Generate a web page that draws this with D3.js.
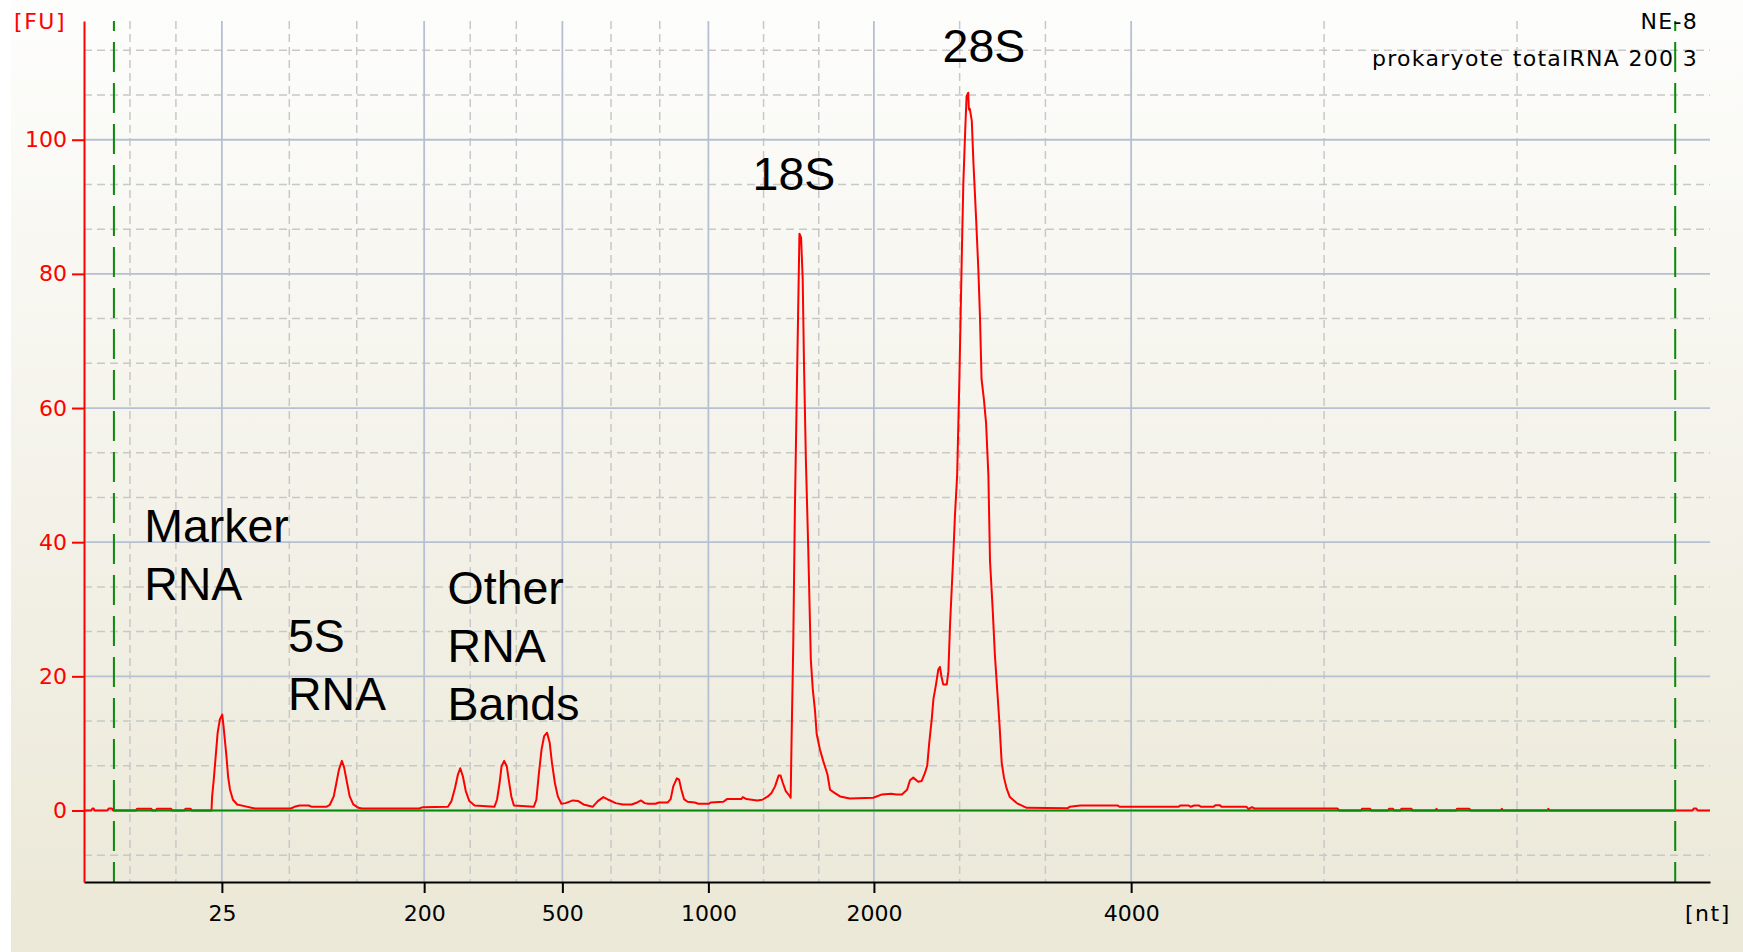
<!DOCTYPE html>
<html>
<head>
<meta charset="utf-8">
<script src="https://cdn.jsdelivr.net/npm/d3@7"></script>
<style>
    body { margin: 0; background: #fff; }
    svg { display: block; }
    .lbl { font-family: "DejaVu Sans", Verdana, sans-serif; font-size: 22px; }
    .note { font-family: "Liberation Sans", Arial, sans-serif; font-size: 46.5px; fill: #000; }
</style>
</head>
<body>
<svg id="chart"></svg>
<script>
// ladder: migration time (s) and the size in nt it stands for
const ladderNt = [25, 200, 500, 1000, 2000, 4000];
const ladderTime = [23.24, 29.46, 33.71, 38.2, 43.29, 51.2];
const fuTicks = [0, 20, 40, 60, 80, 100];
// lower and upper alignment markers (s)
const markerTime = [19.92, 67.93];

// electropherogram trace
const traceTime = [
    19.0, 19.22, 19.26, 19.3, 19.32, 19.72, 19.76, 19.86, 19.9,
    20.6, 20.63, 21.07, 21.1, 21.21, 21.24, 21.68, 21.71, 22.09, 22.12, 22.28, 22.31,
    22.92, 22.94, 22.99, 23.05, 23.11, 23.18, 23.25, 23.29, 23.32, 23.38, 23.43, 23.49, 23.58, 23.71, 23.93, 24.15, 24.26,
    25.36, 25.47, 25.63, 25.91, 26.01, 26.45, 26.56, 26.68, 26.76, 26.84, 26.93, 27.0, 27.09, 27.17, 27.28, 27.44, 27.55,
    29.31, 29.42, 30.19, 30.3, 30.41, 30.5, 30.57, 30.65, 30.74, 30.85, 31.01,
    31.62, 31.7, 31.78, 31.84, 31.92, 32.0, 32.06, 32.14, 32.22,
    32.83, 32.91, 32.99, 33.07, 33.15, 33.24, 33.32, 33.39, 33.48, 33.57, 33.68, 33.81, 34.03, 34.2, 34.36, 34.64, 34.8, 34.97, 35.13, 35.35, 35.57, 35.84,
    36.01, 36.13, 36.24, 36.35, 36.57, 36.68, 36.95, 37.04, 37.12, 37.23, 37.3, 37.37, 37.45, 37.56, 37.78, 37.89,
    38.22, 38.27, 38.66, 38.77, 39.21, 39.26, 39.37, 39.7, 39.86, 40.03, 40.14, 40.25, 40.36, 40.42, 40.49, 40.58, 40.69, 40.73,
    40.76, 40.81, 40.86, 40.93, 41.0, 41.05, 41.1, 41.14, 41.2, 41.27, 41.35, 41.41, 41.48, 41.53, 41.63, 41.73, 41.86, 41.94, 42.09, 42.25, 42.55,
    43.27, 43.54, 43.82, 43.98, 44.15, 44.31, 44.4, 44.5, 44.65, 44.76, 44.86, 44.93, 44.99, 45.07, 45.12, 45.2, 45.27, 45.32, 45.37, 45.42, 45.53, 45.58,
    45.63, 45.68, 45.73, 45.78, 45.85, 45.92, 45.96, 46.0, 46.04, 46.1, 46.14, 46.19, 46.21, 46.24, 46.3, 46.35, 46.43, 46.5, 46.55, 46.6, 46.67, 46.74, 46.81, 46.86, 46.94, 47.01, 47.08, 47.15, 47.22, 47.29, 47.37, 47.47, 47.68, 47.99,
    49.25, 49.31, 49.64, 50.79, 50.84, 52.65, 52.72, 52.97, 53.03, 53.14, 53.29, 53.35, 53.73, 53.8, 53.92, 53.98, 54.75, 54.81, 54.91, 55.0, 57.54, 57.6,
    58.27, 58.3, 58.55, 58.58, 59.1, 59.13, 59.25, 59.28, 59.48, 59.51, 59.82, 59.85, 60.56, 60.59, 60.62, 61.19, 61.22, 61.6, 61.63, 62.57, 62.6, 62.63, 64.0, 64.03, 64.06,
    68.46, 68.5, 68.58, 68.62, 69.0
];
const traceFu = [
    0, 0, 0.3, 0.3, 0, 0, 0.3, 0.3, 0,
    0, 0.25, 0.25, 0, 0, 0.25, 0.25, 0, 0, 0.25, 0.25, 0,
    0, 2.1, 4.6, 8.1, 11.6, 13.6, 14.3, 12.6, 11.1, 8.1, 5.1, 3.1, 1.6, 0.9, 0.65, 0.4, 0.3,
    0.3, 0.55, 0.75, 0.75, 0.55, 0.55, 0.85, 2.1, 4.1, 6.1, 7.4, 6.4, 4.1, 2.1, 0.9, 0.4, 0.3,
    0.3, 0.5, 0.55, 1.4, 3.4, 5.4, 6.3, 5.1, 2.9, 1.4, 0.75,
    0.55, 1.6, 4.1, 6.6, 7.4, 6.6, 4.6, 2.1, 0.75,
    0.55, 1.6, 5.6, 9.1, 11.1, 11.6, 10.1, 7.1, 4.1, 2.1, 1.0, 1.1, 1.5, 1.4, 0.9, 0.55, 1.4, 2.0, 1.6, 1.1, 0.9, 0.9,
    1.2, 1.5, 1.1, 1.0, 1.0, 1.2, 1.2, 1.7, 3.6, 4.8, 4.6, 3.1, 1.7, 1.3, 1.2, 1.0,
    1.0, 1.2, 1.3, 1.7, 1.7, 2.0, 1.7, 1.5, 1.6, 2.1, 2.6, 3.6, 5.2, 5.2, 4.1, 2.9, 2.2, 1.9,
    11.1, 24.8, 44.9, 65.6, 86.0, 85.4, 79.3, 66.6, 51.9, 39.2, 22.5, 18.1, 14.8, 11.4, 9.1, 7.4, 5.4, 3.1, 2.6, 2.1, 1.8,
    1.9, 2.4, 2.5, 2.4, 2.4, 3.1, 4.5, 4.9, 4.3, 4.4, 5.6, 6.7, 10.0, 13.7, 16.6, 18.8, 21.0, 21.4, 19.9, 18.8, 18.8, 20.7,
    27.6, 32.8, 37.9, 43.8, 50.0, 64.7, 74.6, 84.5, 93.6, 101.7, 106.5, 107.0, 104.5, 104.6, 102.8, 96.6, 88.5, 80.8, 73.8, 64.3, 61.4, 57.7, 50.0, 37.2, 30.2, 23.2, 18.1, 13.0, 7.1, 4.9, 3.3, 2.0, 1.1, 0.4,
    0.35, 0.55, 0.75, 0.75, 0.55, 0.55, 0.75, 0.75, 0.55, 0.75, 0.75, 0.55, 0.55, 0.8, 0.8, 0.55, 0.55, 0.2, 0.5, 0.3, 0.3, 0,
    0, 0.25, 0.25, 0, 0, 0.25, 0.25, 0, 0, 0.25, 0.25, 0, 0, 0.25, 0, 0, 0.25, 0.25, 0, 0, 0.25, 0, 0, 0.25, 0,
    0, 0.3, 0.3, 0, 0
];

// peak annotations, anchored at (time, FU) of their first baseline
const noteText = [["Marker", "RNA"], ["5S", "RNA"], ["Other", "RNA", "Bands"], ["18S"], ["28S"]];
const noteTime = [20.85, 25.27, 30.18, 39.56, 45.4];
const noteFu = [40.1, 23.7, 30.8, 92.5, 111.6];

const sampleName = "NE-8";
const runName = "prokaryote totalRNA 200 3";

const W = 1743, H = 952;
const plot = { left: 84, right: 1710, top: 21, bottom: 882 };

const svg = d3.select("#chart").attr("width", W).attr("height", H);

const x = d3.scaleLinear().domain([19, 69]).range([plot.left, plot.right]);
const y = d3.scaleLinear().domain([-10.66, 117.7]).range([plot.bottom, plot.top]);

// panel background: white fading into xp beige
const grad = svg.append("defs").append("linearGradient").attr("id", "bg")
    .attr("x1", 0).attr("y1", 0).attr("x2", 0).attr("y2", 1);
grad.append("stop").attr("offset", 0).attr("stop-color", "#fdfdfc");
grad.append("stop").attr("offset", 1).attr("stop-color", "#ebe8d7");
svg.append("rect").attr("x", 11).attr("y", 0).attr("width", W - 11).attr("height", H).attr("fill", "url(#bg)");

// grid: thirds between the major positions are dashed
const xMajor = [x.domain()[0], ...ladderTime, x.domain()[1]];
const xMinor = [];
for (let i = 0; i < xMajor.length - 1; i++) {
    const step = (xMajor[i + 1] - xMajor[i]) / 3;
    xMinor.push(xMajor[i] + step, xMajor[i] + 2 * step);
}
const yMinor = d3.range(-1, 18).filter((k) => k % 3 !== 0).map((k) => (k * 20) / 3);

const grid = svg.append("g");
grid.selectAll(".vmin").data(xMinor).enter().append("line")
    .attr("x1", (d) => x(d)).attr("x2", (d) => x(d))
    .attr("y1", plot.top).attr("y2", plot.bottom)
    .attr("stroke", "#c8c8c8").attr("stroke-width", 1.5).attr("stroke-dasharray", "8,5");
grid.selectAll(".hmin").data(yMinor).enter().append("line")
    .attr("x1", plot.left).attr("x2", plot.right)
    .attr("y1", (d) => y(d)).attr("y2", (d) => y(d))
    .attr("stroke", "#c8c8c8").attr("stroke-width", 1.5).attr("stroke-dasharray", "8,5");
grid.selectAll(".vmaj").data(ladderTime).enter().append("line")
    .attr("x1", (d) => x(d)).attr("x2", (d) => x(d))
    .attr("y1", plot.top).attr("y2", plot.bottom)
    .attr("stroke", "#b7c0d2").attr("stroke-width", 1.8);
grid.selectAll(".hmaj").data(fuTicks).enter().append("line")
    .attr("x1", plot.left).attr("x2", plot.right)
    .attr("y1", (d) => y(d)).attr("y2", (d) => y(d))
    .attr("stroke", "#b7c0d2").attr("stroke-width", 1.8);

// marker lines
svg.selectAll(".marker").data(markerTime).enter().append("line")
    .attr("x1", (d) => x(d)).attr("x2", (d) => x(d))
    .attr("y1", plot.top).attr("y2", plot.bottom)
    .attr("stroke", "#0a8a0a").attr("stroke-width", 2)
    .attr("stroke-dasharray", "30,11").attr("stroke-dashoffset", 20);

// the trace
const trace = d3.zip(traceTime, traceFu);
const line = d3.line().x((d) => x(d[0])).y((d) => y(d[1]));
svg.append("path").datum(trace)
    .attr("d", line)
    .attr("fill", "none").attr("stroke", "#ff0000").attr("stroke-width", 2)
    .attr("stroke-linejoin", "round");

// baseline between the markers
svg.append("line")
    .attr("x1", x(markerTime[0])).attr("x2", x(markerTime[1]))
    .attr("y1", y(0)).attr("y2", y(0))
    .attr("stroke", "#0a8a0a").attr("stroke-width", 2);

// x axis
const xAxis = svg.append("g").attr("transform", `translate(0,${plot.bottom})`)
    .call(d3.axisBottom(x).tickValues(ladderTime).tickFormat((d, i) => ladderNt[i]).tickSize(11).tickSizeOuter(0));
xAxis.select(".domain").attr("stroke", "#000").attr("stroke-width", 2);
xAxis.selectAll(".tick line").attr("stroke", "#000").attr("stroke-width", 2);
xAxis.selectAll(".tick text").attr("class", "lbl").attr("fill", "#000").attr("y", 39).attr("dy", 0);

// y axis
const yAxis = svg.append("g").attr("transform", `translate(${plot.left},0)`)
    .call(d3.axisLeft(y).tickValues(fuTicks).tickSize(12).tickPadding(5).tickSizeOuter(0));
yAxis.select(".domain").attr("stroke", "#ff0000").attr("stroke-width", 2);
yAxis.selectAll(".tick line").attr("stroke", "#ff0000").attr("stroke-width", 2);
yAxis.selectAll(".tick text").attr("class", "lbl").attr("fill", "#ff0000");

// unit labels
svg.append("text").attr("class", "lbl").attr("x", plot.left - 18).attr("y", 29)
    .attr("text-anchor", "end").attr("fill", "#ff0000").style("letter-spacing", "1.5px").text("[FU]");
svg.append("text").attr("class", "lbl").attr("x", plot.right - 25).attr("y", 921)
    .attr("fill", "#000").style("letter-spacing", "1.5px").text("[nt]");

// sample / run name
svg.append("text").attr("class", "lbl").attr("x", plot.right - 12).attr("y", 29)
    .attr("text-anchor", "end").attr("fill", "#000").style("letter-spacing", "1.3px").text(sampleName);
svg.append("text").attr("class", "lbl").attr("x", plot.right - 12).attr("y", 66)
    .attr("text-anchor", "end").attr("fill", "#000").style("letter-spacing", "1.3px").text(runName);

// peak notes
noteText.forEach((lines, i) => {
    const t = svg.append("text").attr("class", "note")
        .attr("x", x(noteTime[i])).attr("y", y(noteFu[i]));
    lines.forEach((s, j) => {
        t.append("tspan").attr("x", x(noteTime[i])).attr("dy", j === 0 ? 0 : "1.25em").text(s);
    });
});
</script>
</body>
</html>
